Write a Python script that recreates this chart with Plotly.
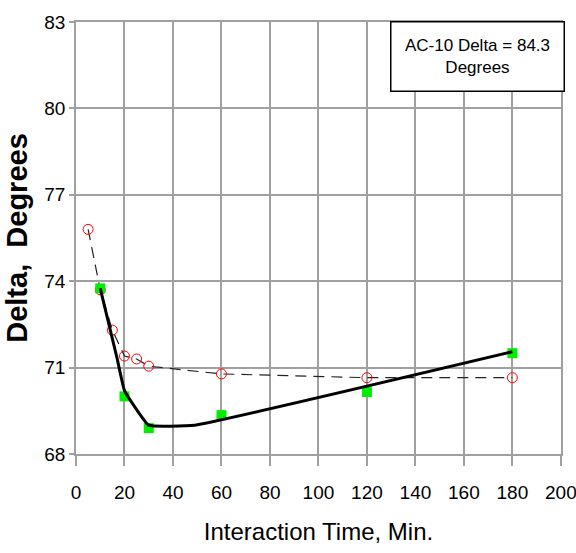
import plotly.graph_objects as go

# Data
time_red = [5, 10, 15, 20, 25, 30, 60, 120, 180]
delta_red = [75.8, 73.7, 72.3, 71.4, 71.3, 71.05, 70.78, 70.65, 70.65]

time_green = [10, 20, 30, 60, 120, 180]
delta_green = [73.75, 70.0, 68.9, 69.35, 70.15, 71.5]

fit_time = [10, 17, 20, 30, 49, 180]
fit_delta = [73.75, 71.3, 70.2, 69.0, 69.0, 71.55]

x_ticks = list(range(0, 201, 20))
y_ticks = [68, 71, 74, 77, 80, 83]

FONT = "Liberation Sans Narrow, Arial Narrow, Liberation Sans, Arial, sans-serif"
GRID = "#a0a0a0"

fig = go.Figure()
fig.add_trace(go.Scatter(x=time_red, y=delta_red, mode="lines",
                         line=dict(color="#222222", width=1.2, dash="11px,7px"),
                         showlegend=False, hoverinfo="skip"))
fig.add_trace(go.Scatter(x=time_red, y=delta_red, mode="markers",
                         marker=dict(symbol="circle-open", size=10, color="red",
                                     line=dict(color="red", width=1)),
                         showlegend=False))
fig.add_trace(go.Scatter(x=time_green, y=delta_green, mode="markers",
                         marker=dict(symbol="square", size=10, color="#00ee00",
                                     line=dict(width=0)),
                         showlegend=False))
fig.add_trace(go.Scatter(x=fit_time, y=fit_delta, mode="lines",
                         line=dict(color="black", width=3, shape="spline", smoothing=0.3),
                         showlegend=False, hoverinfo="skip"))

fig.update_layout(
    width=576, height=553,
    margin=dict(l=76, r=15, t=22, b=99, autoexpand=False),
    paper_bgcolor="white", plot_bgcolor="white",
    font=dict(family=FONT, color="black"),
    xaxis=dict(range=[0, 200.05], tickvals=x_ticks, showgrid=True, gridcolor=GRID,
               gridwidth=1.5, zeroline=False, showline=True, mirror=True, linecolor=GRID,
               linewidth=1.5, ticks="outside", ticklen=10, tickcolor=GRID,
               tickwidth=1.5, tickfont=dict(size=19, family=FONT), automargin=False,
               ticklabelstandoff=10, ticklabeloverflow="allow",
               title=dict(text="Interaction Time, Min.", font=dict(size=24, family=FONT),
                          standoff=22)),
    yaxis=dict(range=[68, 83], tickvals=y_ticks, showgrid=True, gridcolor=GRID,
               gridwidth=1.5, zeroline=False, showline=True, mirror=True, linecolor=GRID,
               linewidth=1.5, ticks="outside", ticklen=5, tickcolor=GRID,
               tickwidth=1.5, tickfont=dict(size=19, family=FONT), automargin=False,
               title=dict(text="<b>Delta,  Degrees</b>", font=dict(size=29, family=FONT),
                          standoff=8)),
)

fig.add_annotation(
    xref="paper", yref="paper", x=(477.5 - 76) / 485, y=(454 - 57) / 432,
    xanchor="center", yanchor="middle",
    text="AC-10 Delta = 84.3<br>Degrees", showarrow=False,
    font=dict(size=17, family=FONT, color="black"),
    align="center", bgcolor="white", bordercolor="black", borderwidth=1.5,
    width=170, height=66,
)

fig.write_html("out.html", config={"displayModeBar": False},
               post_script="document.body.style.margin='0';document.body.style.overflow='hidden';")
